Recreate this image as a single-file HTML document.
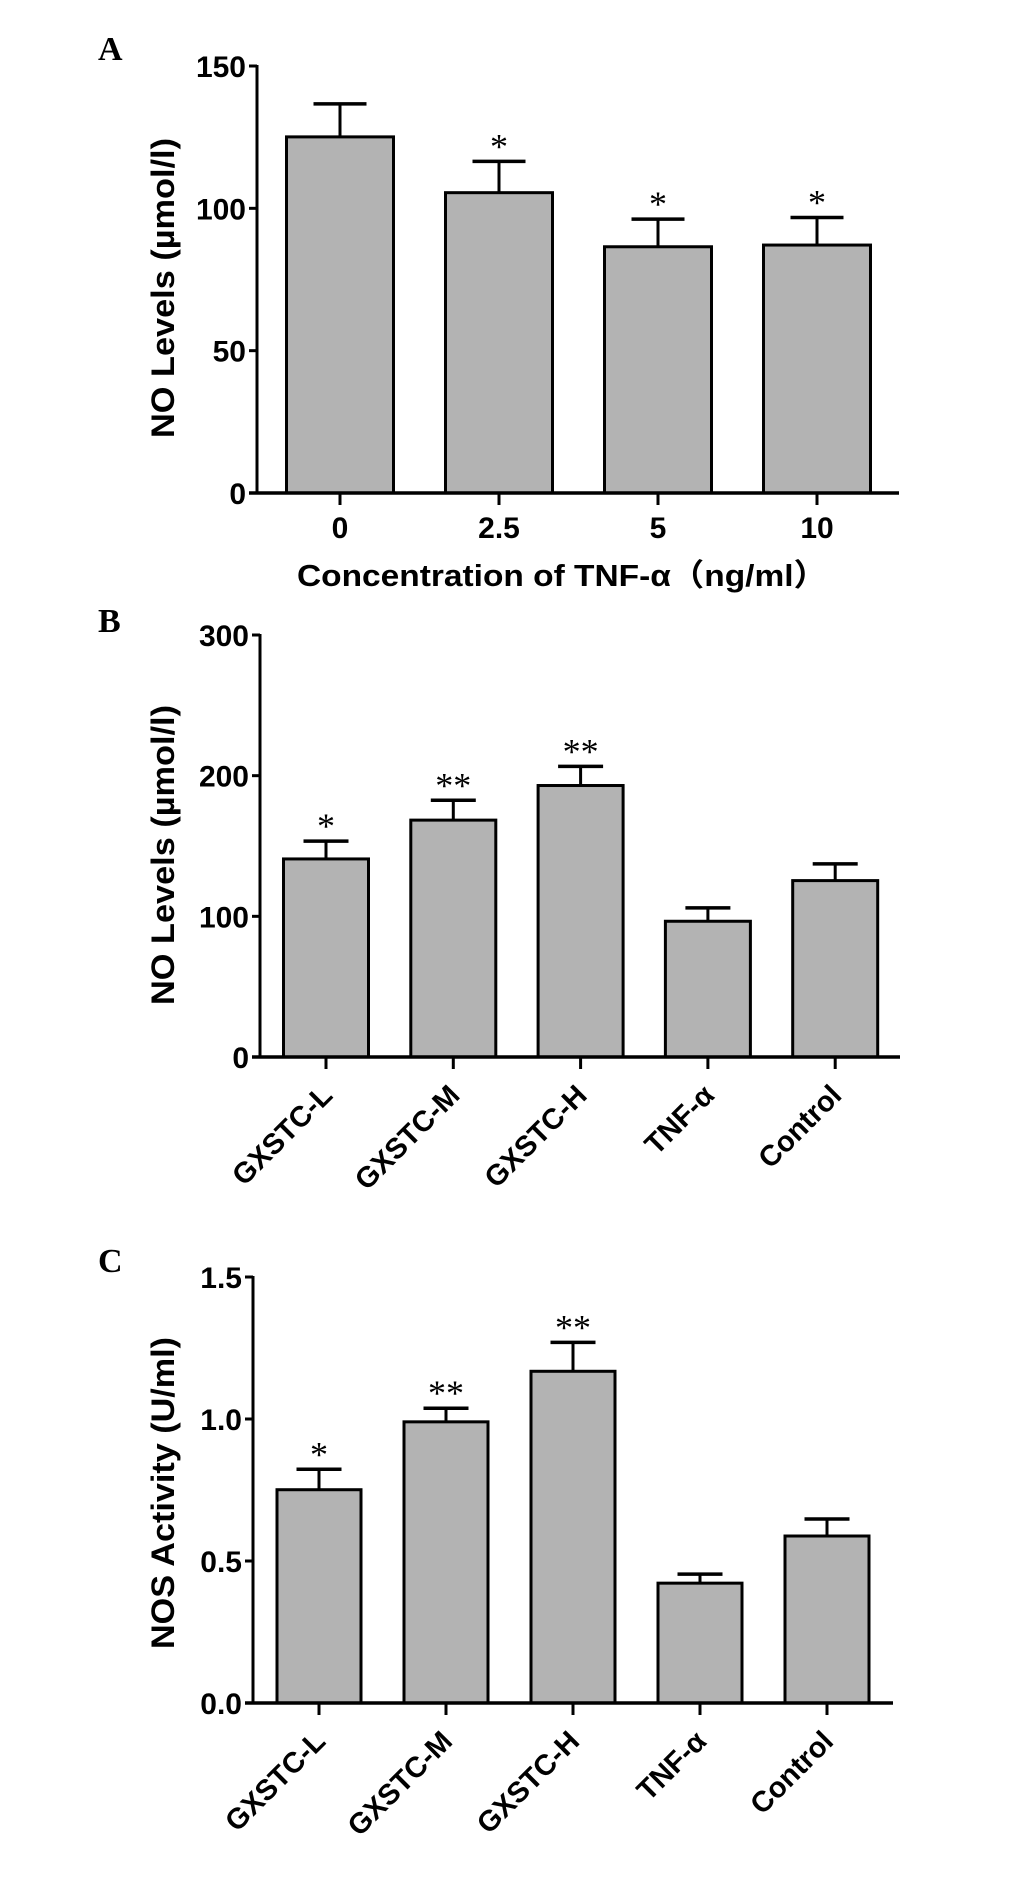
<!DOCTYPE html>
<html><head><meta charset="utf-8">
<style>
html,body{margin:0;padding:0;background:#fff;}
svg{display:block;}
text{font-family:"Liberation Sans",Arial,sans-serif;font-weight:bold;fill:#000;}
.serif{font-family:"Liberation Serif","Times New Roman",serif;}
</style></head>
<body>
<svg id="fig" width="1033" height="1881" viewBox="0 0 1033 1881" xmlns="http://www.w3.org/2000/svg"></svg>
<script>
// Panel A data
const catsA = ["0","2.5","5","10"];
const valsA = [125.1,105.5,86.5,87.1];
const errA = [136.7,116.5,96.2,96.8];
const starsA = ["","*","*","*"];
const ticksA = [0,50,100,150];
const tickLabelsA = ["0","50","100","150"];
// Panel B data
const catsB = ["GXSTC-L","GXSTC-M","GXSTC-H","TNF-α","Control"];
const valsB = [140.8,168.4,193,96.5,125.4];
const errB = [153.5,182.5,206.6,106,137.3];
const starsB = ["*","**","**","",""];
const ticksB = [0,100,200,300];
const tickLabelsB = ["0","100","200","300"];
// Panel C data
const catsC = ["GXSTC-L","GXSTC-M","GXSTC-H","TNF-α","Control"];
const valsC = [0.751,0.990,1.168,0.422,0.588];
const errC = [0.823,1.038,1.270,0.454,0.648];
const starsC = ["*","**","**","",""];
const ticksC = [0,0.5,1.0,1.5];
const tickLabelsC = ["0.0","0.5","1.0","1.5"];

const NS="http://www.w3.org/2000/svg";
const svg=document.getElementById('fig');
function mk(tag,attrs,parent){const e=document.createElementNS(NS,tag);for(const k in attrs)e.setAttribute(k,attrs[k]);(parent||svg).appendChild(e);return e;}

function panel(cfg){
  const g=mk('g',{});
  
  
  const y=v=>cfg.y0-(v-cfg.vmin)/(cfg.vmax-cfg.vmin)*(cfg.y0-cfg.y1);
  const xc=i=>cfg.xFirst+i*cfg.step;
  const L=mk('text',{x:cfg.letterX,y:cfg.letterY,'font-size':34,class:'serif'},g);
  L.textContent=cfg.letter;
  
  
  cfg.vals.forEach((v,i)=>{
    const cx=xc(i);
    const e=cfg.errs[i];
    const el=mk('line',{x1:cx,x2:cx,y1:y(v),y2:y(e),stroke:'#000','stroke-width':3},g);
    
    
    const cap=mk('line',{x1:cx-cfg.cap/2,x2:cx+cfg.cap/2,y1:y(e),y2:y(e),stroke:'#000','stroke-width':3.5},g);
    
    
    const r=mk('rect',{x:cx-cfg.bw/2,y:y(v),width:cfg.bw,height:y(cfg.vmin)-y(v),fill:'#b3b3b3',stroke:'#000','stroke-width':3},g);
    
    
    if(cfg.stars[i]){
      const s=mk('text',{x:cx,y:y(e)-3,'font-size':36,'text-anchor':'middle',class:'serif',style:'font-weight:normal'},g);
      s.textContent=cfg.stars[i];
      
      
    }
  });
  const ya=mk('line',{x1:cfg.ax,x2:cfg.ax,y1:y(cfg.vmax)-1,y2:y(cfg.vmin),stroke:'#000','stroke-width':3},g);
  
  
  const xa=mk('line',{x1:cfg.ax-8,x2:cfg.axEnd,y1:y(cfg.vmin),y2:y(cfg.vmin),stroke:'#000','stroke-width':3.5},g);
  
  
  cfg.ticks.forEach((t,i)=>{
    const tl=mk('line',{x1:cfg.ax-8,x2:cfg.ax,y1:y(t),y2:y(t),stroke:'#000','stroke-width':3},g);
    
    
    const tx=mk('text',{x:cfg.ax-11,y:y(t)+11,'font-size':30,'text-anchor':'end'},g);
    tx.textContent=cfg.tickLabels[i];
    
    
  });
  cfg.cats.forEach((c,i)=>{
    const cx=xc(i);
    const tl=mk('line',{x1:cx,x2:cx,y1:y(cfg.vmin),y2:y(cfg.vmin)+12,stroke:'#000','stroke-width':3},g);
    
    
    let tx;
    if(cfg.rot){
      tx=mk('text',{x:cx+8,y:y(cfg.vmin)+40,'font-size':29,'text-anchor':'end',transform:`rotate(-45 ${cx+8} ${y(cfg.vmin)+40})`},g);
    } else {
      tx=mk('text',{x:cx,y:y(cfg.vmin)+45,'font-size':30,'text-anchor':'middle'},g);
    }
    tx.textContent=c;
    
    
  });
  const yt=mk('text',{x:0,y:0,'font-size':32,'text-anchor':'middle',textLength:cfg.ytLen,lengthAdjust:'spacingAndGlyphs',transform:`translate(${cfg.ytX} ${cfg.ytY}) rotate(-90)`},g);
  yt.textContent=cfg.ytitle;
  
  
  if(cfg.xtitle){
    const xt=mk('text',{x:cfg.xtX,y:cfg.xtY,'font-size':31,'text-anchor':'middle',textLength:cfg.xtLen,lengthAdjust:'spacingAndGlyphs',style:'font-family:"Liberation Sans","Noto Sans CJK SC",sans-serif'},g);
    xt.textContent=cfg.xtitle;
    
    
  }
}

panel({name:'panel-a',letter:'A',letterX:98,letterY:60,cats:catsA,vals:valsA,errs:errA,stars:starsA,ticks:ticksA,tickLabels:tickLabelsA,
  vmin:0,vmax:150,y0:493,y1:66,ax:257,axEnd:899,xFirst:340,step:159,bw:107,cap:53,rot:false,
  ytitle:'NO Levels (µmol/l)',ytX:174,ytY:288,ytLen:300,xtitle:'Concentration of TNF-α（ng/ml）',xtX:562,xtY:586,xtLen:530});
panel({name:'panel-b',letter:'B',letterX:98,letterY:632,cats:catsB,vals:valsB,errs:errB,stars:starsB,ticks:ticksB,tickLabels:tickLabelsB,
  vmin:0,vmax:300,y0:1057,y1:635,ax:260,axEnd:900,xFirst:326,step:127.3,bw:85,cap:45,rot:true,
  ytitle:'NO Levels (µmol/l)',ytX:174,ytY:855,ytLen:300});
panel({name:'panel-c',letter:'C',letterX:98,letterY:1272,cats:catsC,vals:valsC,errs:errC,stars:starsC,ticks:ticksC,tickLabels:tickLabelsC,
  vmin:0,vmax:1.5,y0:1703,y1:1277,ax:253,axEnd:893,xFirst:319,step:127,bw:84,cap:45,rot:true,
  ytitle:'NOS Activity (U/ml)',ytX:174,ytY:1493,ytLen:312});
</script>
</body></html>
